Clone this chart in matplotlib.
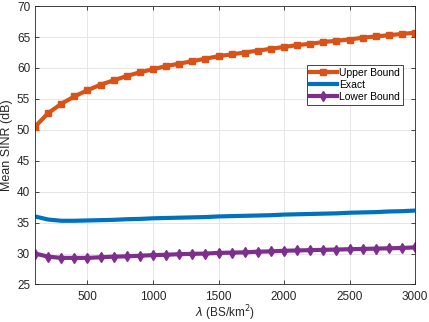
import numpy as np
import matplotlib
matplotlib.use("Agg")
import matplotlib.pyplot as plt

plt.rcParams['font.family'] = ['Liberation Sans', 'DejaVu Sans']

# density of BSs (BS/km^2)
lam = [100, 200, 300, 400, 500, 600, 700, 800, 900, 1000,
       1100, 1200, 1300, 1400, 1500, 1600, 1700, 1800, 1900, 2000,
       2100, 2200, 2300, 2400, 2500, 2600, 2700, 2800, 2900, 3000]

upper = [50.5, 52.7, 54.2, 55.4, 56.4, 57.3, 58.0, 58.7, 59.3, 59.8,
         60.3, 60.7, 61.1, 61.5, 61.9, 62.2, 62.5, 62.8, 63.1, 63.4,
         63.7, 63.9, 64.2, 64.4, 64.6, 64.9, 65.1, 65.3, 65.5, 65.7]

exact = [36.0, 35.5, 35.3, 35.3, 35.35, 35.4, 35.45, 35.55, 35.6, 35.7,
         35.75, 35.8, 35.85, 35.9, 36.0, 36.05, 36.1, 36.15, 36.2, 36.3,
         36.35, 36.4, 36.45, 36.5, 36.6, 36.65, 36.7, 36.8, 36.85, 36.95]

lower = [30.0, 29.5, 29.3, 29.3, 29.3, 29.4, 29.5, 29.55, 29.65, 29.75,
         29.8, 29.9, 29.95, 30.0, 30.1, 30.15, 30.2, 30.3, 30.35, 30.45,
         30.5, 30.55, 30.6, 30.65, 30.7, 30.75, 30.8, 30.85, 30.9, 31.0]

fig = plt.figure(figsize=(4.29, 3.22), dpi=100, facecolor="white")
ax = fig.add_axes([0.0816, 0.1165, 0.886, 0.8645])

ax.plot(lam, upper, "-s", color="#D95319", lw=3, ms=4.5, label="Upper Bound")
ax.plot(lam, exact, "-", color="#0072BD", lw=3, label="Exact")
ax.plot(lam, lower, "-d", color="#7E2F8E", lw=3, ms=5.5, label="Lower Bound")

ax.set_xlim(100, 3000)
ax.set_ylim(25, 70)
ax.set_xticks([500, 1000, 1500, 2000, 2500, 3000])
ax.set_yticks(np.arange(25, 71, 5))
ax.grid(True, color="#e6e6e6", lw=0.7)
ax.set_axisbelow(True)
ax.tick_params(direction="in", top=True, right=True, labelsize=8.5,
               colors="#262626", length=3, width=0.6)
ax.tick_params(axis="x", pad=5)
for s in ax.spines.values():
    s.set_color("#262626")
    s.set_linewidth(0.6)

ax.set_xlabel(r"$\lambda$ (BS/km$^2$)", fontsize=8.5, color="#262626", labelpad=0)
ax.set_ylabel("Mean SINR (dB)", fontsize=9, color="#262626", labelpad=3)

leg = ax.legend(loc="upper right", bbox_to_anchor=(0.968, 0.79), fontsize=7.5,
                fancybox=False, framealpha=1, edgecolor="#262626",
                handlelength=2.6, handletextpad=0.2, borderpad=0.3,
                labelspacing=0.2, borderaxespad=0)
leg.get_frame().set_linewidth(0.6)

fig.savefig("out.png", dpi=100)
